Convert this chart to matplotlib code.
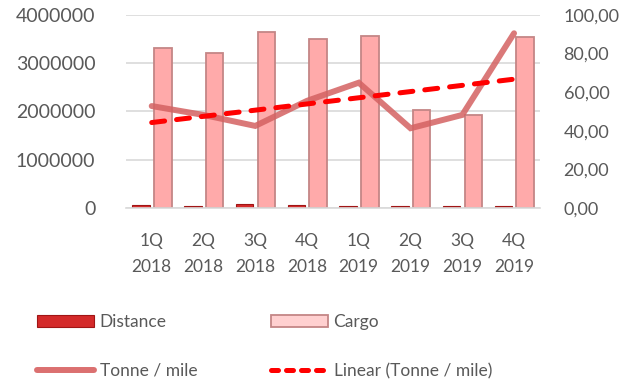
import numpy as np
import matplotlib
matplotlib.use("Agg")
import matplotlib.pyplot as plt
from matplotlib.lines import Line2D
from matplotlib.patches import Patch

plt.rcParams['font.family'] = ['Lato', 'DejaVu Sans']

quarters = ['1Q\n2018', '2Q\n2018', '3Q\n2018', '4Q\n2018',
            '1Q\n2019', '2Q\n2019', '3Q\n2019', '4Q\n2019']
distance = [55000, 50000, 75000, 55000, 50000, 32000, 32000, 32000]
cargo = [3316000, 3220000, 3654000, 3500000, 3565000, 2030000, 1920000, 3550000]
tonne_mile = [52.8, 48.2, 42.5, 55.5, 64.9, 41.3, 48.2, 90.5]

text_col = '#595959'
x = np.arange(len(quarters))

fig = plt.figure(figsize=(6.42, 3.83), dpi=100)
ax = fig.add_axes([0.196, 0.457, 0.645, 0.504])

w = 0.34
ax.bar(x - 0.205, distance, w, color='#D42A2A', edgecolor='#A01515', linewidth=0.8, zorder=2)
ax.bar(x + 0.215, cargo, w, color='#FFAAAA', edgecolor='#C48686', linewidth=1.3, zorder=2)

ax.set_xlim(-0.5, len(quarters) - 0.5)
ax.set_ylim(0, 4000000)
ax.set_yticks(range(0, 4000001, 1000000))
ax.set_yticklabels([str(v) for v in range(0, 4000001, 1000000)])
ax.grid(axis='y', color='#D9D9D9', linewidth=1.2)
ax.set_axisbelow(True)
ax.set_xticks(x)
ax.set_xticklabels(quarters, linespacing=1.8)
ax.tick_params(axis='x', length=0, pad=18, labelsize=12.5, labelcolor=text_col)
ax.tick_params(axis='y', length=0, pad=22, labelsize=14, labelcolor=text_col)
for s in ax.spines.values():
    s.set_visible(False)
ax.spines['bottom'].set_visible(True)
ax.spines['bottom'].set_color('#D9D9D9')
ax.spines['bottom'].set_linewidth(1.2)

# tonne per mile on the right-hand axis, with its linear trend
ax2 = ax.twinx()
ax2.set_ylim(0, 100)
ax2.set_yticks(range(0, 101, 20))
ax2.set_yticklabels([f'{v:.2f}'.replace('.', ',') for v in range(0, 101, 20)])
ax2.tick_params(axis='y', length=0, pad=17, labelsize=13, labelcolor=text_col)
for s in ax2.spines.values():
    s.set_visible(False)

ax2.plot(x, tonne_mile, color='#D46262', alpha=0.85, linewidth=4.3,
         solid_capstyle='round', solid_joinstyle='miter', zorder=3)
k, b = np.polyfit(x, tonne_mile, 1)
ax2.plot(x, k * x + b, color='#FF0000', linewidth=3.6,
         linestyle=(0, (2.6, 2.4)), dash_capstyle='round', zorder=4)

# legend in two columns below the chart
h_dist = Patch(facecolor='#D42A2A', edgecolor='#A01515', linewidth=0.8)
h_cargo = Patch(facecolor='#FFD0D0', edgecolor='#C48686', linewidth=1.3)
h_tm = Line2D([], [], color='#DB7070', linewidth=4.3, solid_capstyle='round')
h_lin = Line2D([], [], color='#FF0000', linewidth=3.6,
               linestyle=(0, (1.4, 1.6)), dash_capstyle='round')

leg_kw = dict(frameon=False, fontsize=12.5, handlelength=3.3, handleheight=0.7,
              handletextpad=0.3, labelspacing=1.9, labelcolor=text_col,
              loc='upper left', borderaxespad=0, borderpad=0)
fig.legend([h_dist, h_tm], ['Distance', 'Tonne / mile'],
           bbox_to_anchor=(37 / 642, 1 - 314 / 383), **leg_kw)
fig.legend([h_cargo, h_lin], ['Cargo', 'Linear (Tonne / mile)'],
           bbox_to_anchor=(271 / 642, 1 - 314 / 383), **leg_kw)

fig.savefig('out.png', dpi=100)
